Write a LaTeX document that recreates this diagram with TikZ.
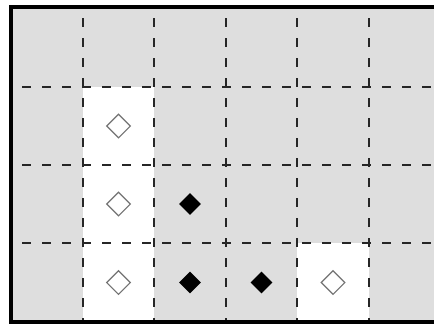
\documentclass[tikz,border=0pt]{standalone}
\usetikzlibrary{shapes.geometric}

\begin{document}
\begin{tikzpicture}[x=1pt,y=-1pt,
  cellgray/.style={fill=black!13},
  gridline/.style={line width=2.8pt,draw=black!85,dash pattern=on 9pt off 11pt,dash phase=9pt},
  opendia/.style={diamond,draw=black!55,line width=1.1pt,minimum width=24pt,minimum height=24pt,inner sep=0pt},
  fulldia/.style={diamond,fill=black,minimum width=22pt,minimum height=22pt,inner sep=0pt}]
\useasboundingbox (0,0) rectangle (434,325);
\begin{scope}
\clip (0,0) rectangle (434,325);
\fill[cellgray] (11,7) rectangle (440,322);
\fill[white] (83,87) rectangle (154,322);
\fill[white] (297,243) rectangle (369,322);
\foreach \x in {83,154,226,297,369} \draw[gridline] (\x,7) -- (\x,322);
\foreach \y in {87,165,243} \draw[gridline] (11,\y) -- (440,\y);
\draw[line width=3.2pt] (11,7) rectangle (440,322);
\end{scope}
% pieces
\node[opendia] (o22) at (118.5,126) {};
\node[opendia] (o23) at (118.5,204) {};
\node[opendia] (o24) at (118.5,282.5) {};
\node[opendia] (o54) at (333,282.5) {};
\node[fulldia] (f33) at (190,204) {};
\node[fulldia] (f34) at (190,282.5) {};
\node[fulldia] (f44) at (261.5,282.5) {};
\end{tikzpicture}
\end{document}
